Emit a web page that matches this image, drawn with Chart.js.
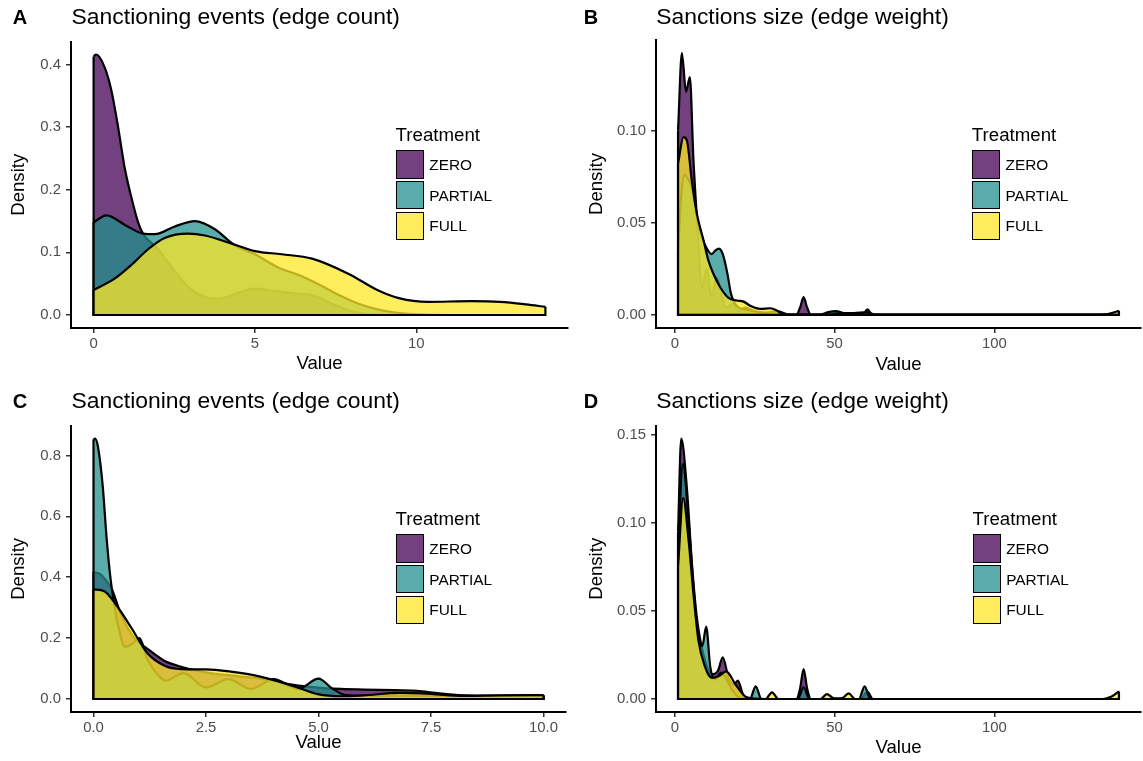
<!DOCTYPE html>
<html>
<head>
<meta charset="utf-8">
<script src="https://cdn.jsdelivr.net/npm/chart.js@4.4.1/dist/chart.umd.min.js"></script>
<style>
  body { margin: 0; background: #fff; font-family: "Liberation Sans", Arial, sans-serif; }
  #fig { position: relative; width: 1143px; height: 761px; overflow: hidden; }
  canvas { position: absolute; }
  .txt { position: absolute; white-space: nowrap; color: #000; }
  .key { position: absolute; width: 28.5px; height: 28.5px; box-sizing: border-box; border: 1.6px solid #000; }
</style>
</head>
<body>
<div id="fig">
  <canvas id="pA" width="571" height="380" style="left:0;top:0"></canvas>
  <canvas id="pB" width="572" height="380" style="left:571px;top:0"></canvas>
  <canvas id="pC" width="571" height="381" style="left:0;top:380px"></canvas>
  <canvas id="pD" width="572" height="381" style="left:571px;top:380px"></canvas>
</div>
<script>
const treatments = ["ZERO", "PARTIAL", "FULL"];
const fills = ["rgba(68,1,84,0.75)", "rgba(33,144,140,0.75)", "rgba(253,231,37,0.75)"];

// A: sanctioning events (edge count)
const aZeroX = [0, 0.08, 0.34, 0.55, 0.76, 0.96, 1.17, 1.38, 1.53, 2.0, 2.5, 3.0, 3.5, 3.9, 4.4, 5.0, 5.6, 6.3, 6.8, 7.4, 8.0, 8.6, 9.5, 11, 14];
const aZeroY = [0.413, 0.416, 0.396, 0.359, 0.30, 0.236, 0.188, 0.148, 0.13, 0.105, 0.071, 0.042, 0.028, 0.026, 0.034, 0.042, 0.038, 0.034, 0.031, 0.018, 0.006, 0.001, 0, 0, 0];
const aPartialX = [0, 0.4, 1.0, 1.53, 1.9, 2.5, 3.14, 3.76, 4.33, 5.0, 5.72, 6.4, 6.97, 7.6, 8.21, 8.8, 9.35, 10, 11, 14];
const aPartialY = [0.148, 0.159, 0.143, 0.13, 0.129, 0.141, 0.15, 0.137, 0.113, 0.097, 0.076, 0.063, 0.049, 0.032, 0.018, 0.009, 0.004, 0.001, 0, 0];
const aFullX = [0, 0.65, 1.17, 1.69, 2.2, 2.93, 3.45, 4.33, 5.0, 5.83, 6.77, 7.89, 8.79, 9.46, 10.36, 11.7, 12.6, 13.4, 14];
const aFullY = [0.04, 0.058, 0.08, 0.105, 0.123, 0.13, 0.127, 0.113, 0.102, 0.097, 0.09, 0.066, 0.04, 0.027, 0.021, 0.022, 0.021, 0.017, 0.013];

// B: sanctions size (edge weight)
const bZeroX = [1, 2.2, 3.5, 4.7, 5.8, 7, 8.5, 10, 11.5, 13, 14.5, 16, 18, 20, 22, 25, 30, 35, 38, 39.2, 40.3, 41.4, 42.6, 46, 50, 55, 58.8, 60.3, 61.8, 65, 139];
const bZeroY = [0.10, 0.142, 0.121, 0.129, 0.085, 0.05, 0.015, 0.025, 0.01, 0.02, 0.012, 0.004, 0.006, 0.002, 0.004, 0.002, 0.001, 0, 0, 0.004, 0.0096, 0.004, 0, 0, 0.001, 0.001, 0, 0.003, 0, 0, 0];
const bPartialX = [1, 2, 3, 4, 5.5, 7, 8.5, 10, 11.5, 12.7, 13.8, 15, 16.5, 17.5, 18.5, 20, 22, 25, 28, 32, 36, 45, 48, 50.5, 53, 56, 60, 63, 139];
const bPartialY = [0.035, 0.065, 0.076, 0.074, 0.068, 0.052, 0.042, 0.036, 0.033, 0.035, 0.036, 0.033, 0.022, 0.012, 0.007, 0.004, 0.003, 0.002, 0.001, 0.002, 0, 0, 0.0015, 0.002, 0.001, 0.001, 0.0015, 0, 0];
const bFullX = [1, 2.7, 3.76, 5.3, 6.9, 9.0, 10.5, 12.1, 14.2, 16.8, 19.4, 21.5, 23.6, 26.7, 29.9, 31.9, 34, 40, 48, 52, 55, 57, 60, 130, 135, 137, 139];
const bFullY = [0.082, 0.0964, 0.0946, 0.0729, 0.0548, 0.0403, 0.0295, 0.0222, 0.015, 0.0092, 0.0078, 0.0072, 0.005, 0.0033, 0.0036, 0.0024, 0, 0, 0, 0.001, 0.0005, 0.001, 0, 0, 0.0003, 0.0012, 0.0022];

// C: sanctioning events (edge count)
const cZeroX = [0, 0.15, 0.3, 0.41, 0.61, 0.91, 1.2, 1.58, 1.87, 2.13, 2.6, 3.2, 3.8, 4.3, 4.8, 5.5, 6.0, 6.7, 7.2, 7.6, 8.2, 9, 10];
const cZeroY = [0.417, 0.41, 0.385, 0.36, 0.278, 0.2, 0.165, 0.125, 0.109, 0.098, 0.085, 0.075, 0.065, 0.05, 0.04, 0.033, 0.031, 0.029, 0.027, 0.02, 0.012, 0.01, 0.012];
const cPartialX = [0, 0.03, 0.1, 0.21, 0.28, 0.36, 0.41, 0.55, 0.7, 0.85, 1.02, 1.2, 1.4, 1.6, 2.0, 2.5, 3.0, 3.5, 4.0, 4.55, 5.0, 5.3, 5.6, 6.5, 8, 10];
const cPartialY = [0.853, 0.855, 0.828, 0.692, 0.55, 0.42, 0.36, 0.24, 0.171, 0.18, 0.2, 0.13, 0.085, 0.06, 0.085, 0.038, 0.065, 0.033, 0.065, 0.033, 0.067, 0.035, 0.013, 0.01, 0.01, 0.01];
const cFullX = [0, 0.24, 0.47, 0.84, 1.2, 1.58, 1.95, 2.5, 3.05, 3.5, 4.0, 4.53, 4.98, 5.5, 6.0, 6.8, 7.5, 8.2, 9, 10];
const cFullY = [0.36, 0.354, 0.316, 0.234, 0.15, 0.109, 0.098, 0.097, 0.09, 0.08, 0.062, 0.038, 0.016, 0.009, 0.012, 0.02, 0.017, 0.01, 0.012, 0.013];

// D: sanctions size (edge weight)
const dZeroX = [1, 2.0, 3.75, 5.3, 6.9, 9, 11.6, 13.5, 15.0, 16.8, 18.5, 19.7, 21.5, 25, 38, 39.2, 40.3, 41.4, 42.6, 58, 60.3, 62, 139];
const dZeroY = [0.095, 0.1477, 0.12, 0.078, 0.046, 0.025, 0.014, 0.016, 0.0236, 0.012, 0.008, 0.0104, 0.002, 0, 0, 0.006, 0.017, 0.006, 0, 0, 0.004, 0, 0];
const dPartialX = [1, 2.5, 4.3, 5.85, 7.4, 8.6, 9.8, 11.1, 12.6, 14.5, 16.5, 18, 20, 23.5, 25.3, 27.1, 38.5, 40.3, 42.1, 57.6, 59.4, 61.2, 139];
const dPartialY = [0.085, 0.1334, 0.101, 0.063, 0.035, 0.03, 0.041, 0.018, 0.011, 0.015, 0.01, 0.005, 0.001, 0, 0.0072, 0, 0, 0.0066, 0, 0, 0.0072, 0, 0];
const dFullX = [1, 2.6, 4.3, 5.85, 7.4, 9.5, 11.6, 13.8, 16.1, 18.9, 22.5, 28.4, 30.4, 32.4, 45.6, 47.6, 49.6, 51, 52.4, 54.4, 56.4, 134, 136.5, 139];
const dFullY = [0.075, 0.114, 0.09, 0.059, 0.033, 0.018, 0.012, 0.013, 0.0157, 0.0085, 0.001, 0, 0.0038, 0, 0, 0.0028, 0.0005, 0.0003, 0.0005, 0.0032, 0, 0, 0.0012, 0.0043];

// tick values and labels
const countXTicksA = [0, 5, 10];
const countXLabelsA = ["0", "5", "10"];
const countYTicksA = [0, 0.1, 0.2, 0.3, 0.4];
const countYLabelsA = ["0.0", "0.1", "0.2", "0.3", "0.4"];
const weightXTicks = [0, 50, 100];
const weightXLabels = ["0", "50", "100"];
const weightYTicksB = [0, 0.05, 0.1];
const weightYLabelsB = ["0.00", "0.05", "0.10"];
const countXTicksC = [0, 2.5, 5, 7.5, 10];
const countXLabelsC = ["0.0", "2.5", "5.0", "7.5", "10.0"];
const countYTicksC = [0, 0.2, 0.4, 0.6, 0.8];
const countYLabelsC = ["0.0", "0.2", "0.4", "0.6", "0.8"];
const weightYTicksD = [0, 0.05, 0.1, 0.15];
const weightYLabelsD = ["0.00", "0.05", "0.10", "0.15"];

const FONT = '"Liberation Sans", Arial, sans-serif';

const panels = [
  { id: "pA", letter: "A", title: "Sanctioning events (edge count)", left: 0, top: 0, w: 571, h: 380,
    area: { left: 71, right: 568, top: 41.5, bottom: 328 }, yPad: 8, xPad: 5, leg: { x: 395.6, y: 150 },
    series: [[aZeroX, aZeroY], [aPartialX, aPartialY], [aFullX, aFullY]],
    xTicks: countXTicksA, xLabels: countXLabelsA, yTicks: countYTicksA, yLabels: countYLabelsA },
  { id: "pB", letter: "B", title: "Sanctions size (edge weight)", left: 571, top: 0, w: 572, h: 380,
    area: { left: 85, right: 570, top: 40, bottom: 328 }, yPad: 15, xPad: 4, leg: { x: 971.8, y: 150 },
    series: [[bZeroX, bZeroY], [bPartialX, bPartialY], [bFullX, bFullY]],
    xTicks: weightXTicks, xLabels: weightXLabels, yTicks: weightYTicksB, yLabels: weightYLabelsB },
  { id: "pC", letter: "C", title: "Sanctioning events (edge count)", left: 0, top: 380, w: 571, h: 381,
    area: { left: 71, right: 566, top: 45.7, bottom: 332 }, yPad: 8, xPad: 7, leg: { x: 395.6, y: 534 },
    series: [[cZeroX, cZeroY], [cPartialX, cPartialY], [cFullX, cFullY]],
    xTicks: countXTicksC, xLabels: countXLabelsC, yTicks: countYTicksC, yLabels: countYLabelsC },
  { id: "pD", letter: "D", title: "Sanctions size (edge weight)", left: 571, top: 380, w: 572, h: 381,
    area: { left: 85, right: 570, top: 45.6, bottom: 332 }, yPad: 15, xPad: 2, leg: { x: 972.5, y: 534 },
    series: [[dZeroX, dZeroY], [dPartialX, dPartialY], [dFullX, dFullY]],
    xTicks: weightXTicks, xLabels: weightXLabels, yTicks: weightYTicksD, yLabels: weightYLabelsD }
];

const fig = document.getElementById("fig");

function addText(str, x, baseline, size, bold) {
  const d = document.createElement("div");
  d.className = "txt";
  d.textContent = str;
  d.style.fontSize = size + "px";
  d.style.lineHeight = size + "px";
  d.style.left = x + "px";
  d.style.top = (baseline - 0.8465 * size) + "px";
  if (bold) d.style.fontWeight = "bold";
  fig.appendChild(d);
}

function drawPanel(p) {
  const datasets = [];
  let xs = [], ys = [];
  p.series.forEach(([sx, sy], i) => {
    xs = xs.concat(sx); ys = ys.concat(sy);
    const n = sx.length - 1;
    datasets.push({
      label: treatments[i],
      data: sx.map((v, j) => ({ x: v, y: sy[j] })),
      fill: "origin", backgroundColor: fills[i], borderColor: "#000", borderWidth: 2.2,
      pointRadius: 0, cubicInterpolationMode: "monotone", order: 10 - 2 * i
    });
    // polygon sides and base, like a closed density outline
    datasets.push({
      label: treatments[i] + " edge",
      data: [{ x: sx[0], y: sy[0] }, { x: sx[0], y: 0 }, { x: sx[n], y: 0 }, { x: sx[n], y: sy[n] }],
      fill: false, borderColor: "#000", borderWidth: 2.2, pointRadius: 0, tension: 0, order: 9 - 2 * i
    });
  });
  const xMin = Math.min(...xs), xMax = Math.max(...xs), yMax = Math.max(...ys);
  const xr = xMax - xMin;

  const tickFont = { family: FONT, size: 14.9 };
  const titleFont = { family: FONT, size: 18.6 };

  new Chart(document.getElementById(p.id), {
    type: "line",
    data: { datasets },
    options: {
      responsive: false,
      animation: false,
      layout: { padding: { left: 0, top: p.area.top, right: p.w - p.area.right, bottom: 0 } },
      plugins: { legend: { display: false }, tooltip: { enabled: false } },
      scales: {
        x: {
          type: "linear",
          min: xMin - 0.05 * xr, max: xMax + 0.05 * xr,
          afterBuildTicks: s => { s.ticks = p.xTicks.map(v => ({ value: v })); },
          afterFit: s => { s.height = p.h - p.area.bottom; },
          ticks: { callback: (v, i) => p.xLabels[i], color: "#4D4D4D", font: tickFont, padding: 2, maxRotation: 0, autoSkip: false },
          grid: { display: true, drawOnChartArea: false, drawTicks: true, tickLength: 5, color: "#333", lineWidth: 1.5 },
          border: { display: true, color: "#000", width: 2 },
          title: { display: true, text: "Value", color: "#000", font: titleFont, padding: { top: 0, bottom: p.xPad } }
        },
        y: {
          type: "linear",
          min: -0.05 * yMax, max: 1.05 * yMax,
          afterBuildTicks: s => { s.ticks = p.yTicks.map(v => ({ value: v })); },
          afterFit: s => { s.width = p.area.left; },
          ticks: { callback: (v, i) => p.yLabels[i], color: "#4D4D4D", font: tickFont, padding: 5, autoSkip: false },
          grid: { display: true, drawOnChartArea: false, drawTicks: true, tickLength: 5, color: "#333", lineWidth: 1.5 },
          border: { display: true, color: "#000", width: 2 },
          title: { display: true, text: "Density", color: "#000", font: titleFont, padding: { top: p.yPad, bottom: 0 } }
        }
      }
    }
  });

  // panel letter and title
  addText(p.letter, p.left + 12.7, p.top + (p.top ? 28.3 : 24.3), 20, true);
  addText(p.title, p.left + (p.left ? 85.2 : 71.6), p.top + (p.top ? 28.3 : 24), 22.9, false);

  // legend
  addText("Treatment", p.leg.x, p.leg.y - 8, 18.7, false);
  treatments.forEach((t, i) => {
    const k = document.createElement("div");
    k.className = "key";
    k.style.left = p.leg.x + "px";
    k.style.top = (p.leg.y + i * 30.8) + "px";
    k.style.background = fills[i];
    fig.appendChild(k);
    addText(t, p.leg.x + 33.7, p.leg.y + i * 30.8 + 19.8, 15.4, false);
  });
}

panels.forEach(drawPanel);
</script>
</body>
</html>
